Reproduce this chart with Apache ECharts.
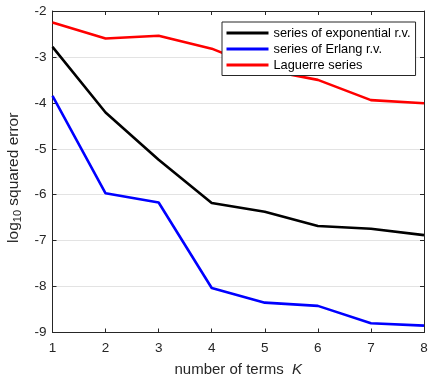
<!DOCTYPE html>
<html>
<head>
<meta charset="utf-8">
<script src="https://cdn.jsdelivr.net/npm/echarts@6/dist/echarts.min.js"></script>
<style>
  html, body { margin: 0; padding: 0; background: #fff; }
  #chart { width: 430px; height: 376px; }
</style>
</head>
<body>
<div id="chart"></div>
<script>
// number of terms K
var terms = [1, 2, 3, 4, 5, 6, 7, 8]
// log10 squared error per series
var expSeries = [-2.78, -4.21, -5.24, -6.18, -6.37, -6.68, -6.74, -6.88]
var erlangSeries = [-3.85, -5.97, -6.17, -8.03, -8.35, -8.42, -8.80, -8.85]
var laguerreSeries = [-2.25, -2.60, -2.54, -2.82, -3.28, -3.50, -3.94, -4.01]
var names = ['series of exponential r.v.', 'series of Erlang r.v.', 'Laguerre series']
var colors = ['#000000', '#0000ff', '#ff0000']

var axisColor = '#262626'
var font = 'Liberation Sans, Arial, sans-serif'

function pairs(vals) {
  return terms.map(function (k, i) { return [k, vals[i]] })
}

function line(name, color, vals) {
  return {
    name: name,
    type: 'line',
    symbol: 'none',
    lineStyle: { color: color, width: 2.6 },
    itemStyle: { color: color },
    data: pairs(vals)
  }
}

var chart = echarts.init(document.getElementById('chart'))
chart.setOption({
  animation: false,
  textStyle: { fontFamily: font },
  grid: { left: 52.5, right: 6, top: 11, bottom: 43.5, containLabel: false, outerBoundsMode: 'none' },
  legend: {
    orient: 'vertical',
    left: 222,
    top: 22,
    backgroundColor: '#fff',
    borderColor: axisColor,
    borderWidth: 1,
    borderRadius: 0,
    padding: [3, 5, 2.5, 4.5],
    icon: 'rect',
    itemWidth: 42,
    itemHeight: 3,
    itemGap: 0,
    textStyle: { fontSize: 12.8, lineHeight: 16, color: '#000', fontFamily: font },
    data: names
  },
  xAxis: [
    {
      type: 'value',
      min: 1,
      max: 8,
      interval: 1,
      name: 'number of terms  {i|K}',
      nameLocation: 'middle',
      nameGap: 30,
      nameTextStyle: {
        fontSize: 15, color: axisColor, fontFamily: font,
        rich: { i: { fontStyle: 'italic', fontSize: 15, color: axisColor, fontFamily: font } }
      },
      axisLine: { show: true, lineStyle: { color: axisColor, width: 1 } },
      axisTick: { show: true, inside: true, length: 4, lineStyle: { color: axisColor } },
      axisLabel: { fontSize: 13.5, color: axisColor, margin: 9, fontFamily: font },
      splitLine: { show: false }
    },
    {
      type: 'value',
      position: 'top',
      min: 1,
      max: 8,
      interval: 1,
      axisLine: { show: true, lineStyle: { color: axisColor, width: 1 } },
      axisTick: { show: true, inside: true, length: 4, lineStyle: { color: axisColor } },
      axisLabel: { show: false },
      splitLine: { show: false }
    }
  ],
  yAxis: [
    {
      type: 'value',
      min: -9,
      max: -2,
      interval: 1,
      name: 'log{sub|10} squared error',
      nameLocation: 'middle',
      nameGap: 28,
      nameTextStyle: {
        fontSize: 15.5, color: axisColor, fontFamily: font, lineHeight: 20,
        padding: [0, 12, 0, 0],
        rich: {
          sub: { fontSize: 11, verticalAlign: 'bottom', lineHeight: 11, color: axisColor, fontFamily: font }
        }
      },
      axisLine: { show: true, lineStyle: { color: axisColor, width: 1 } },
      axisTick: { show: true, inside: true, length: 4, lineStyle: { color: axisColor } },
      axisLabel: { fontSize: 13.5, color: axisColor, margin: 6, fontFamily: font },
      splitLine: { show: true, lineStyle: { color: '#e3e3e3', width: 1 } }
    },
    {
      type: 'value',
      position: 'right',
      min: -9,
      max: -2,
      interval: 1,
      axisLine: { show: true, lineStyle: { color: axisColor, width: 1 } },
      axisTick: { show: true, inside: true, length: 4, lineStyle: { color: axisColor } },
      axisLabel: { show: false },
      splitLine: { show: false }
    }
  ],
  series: [
    line(names[0], colors[0], expSeries),
    line(names[1], colors[1], erlangSeries),
    line(names[2], colors[2], laguerreSeries)
  ]
})
</script>
</body>
</html>
